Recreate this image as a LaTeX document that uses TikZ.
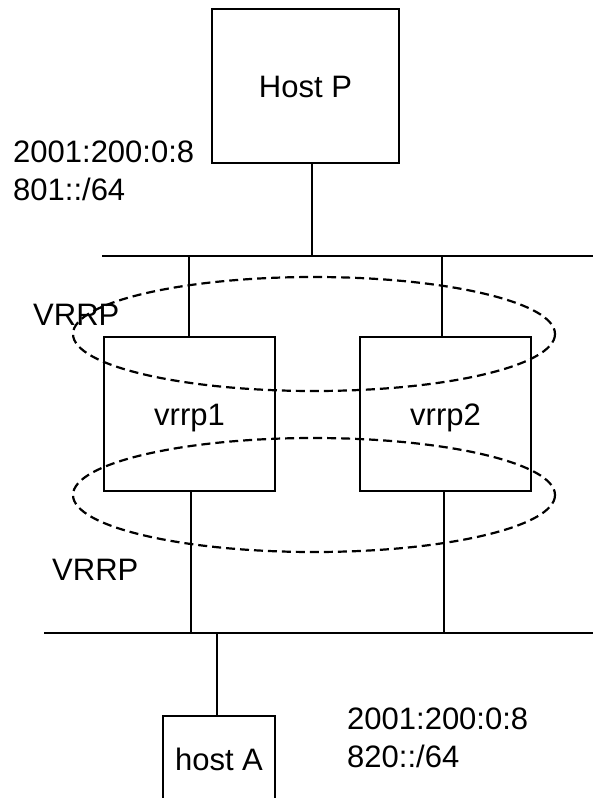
\documentclass[tikz,border=0pt]{standalone}
\usepackage{fontspec}
\setmainfont{Liberation Sans}
\begin{document}
\begin{tikzpicture}[x=1pt,y=-1pt,
  every node/.style={font=\fontsize{31}{38}\selectfont},
  box/.style={draw,line width=1.3pt,inner sep=0pt,text height=22pt,text depth=0pt},
  wire/.style={line width=1.3pt},
  vrrpring/.style={line width=2.2pt,dash pattern=on 9pt off 5pt},
  txt/.style={anchor=base west,inner sep=0pt,align=left}]
\useasboundingbox (0,0) rectangle (593,798);
\clip (0,0) rectangle (593,798);

% hosts and routers
\node[box,minimum width=187pt,minimum height=154pt] (hostp) at (305.5,86) {Host P};
\node[box,minimum width=171pt,minimum height=154pt] (r1) at (189.5,414) {vrrp1};
\node[box,minimum width=171pt,minimum height=154pt] (r2) at (445.5,414) {vrrp2};
\node[box,minimum width=112pt,minimum height=86pt] (hosta) at (219,759) {host A};

% upper segment
\coordinate (busPl) at (102,256);
\coordinate (busPr) at (593,256);
\draw[wire] (busPl) -- (busPr);
\draw[wire] (hostp.south -| 312,0) -- (312,256);
\draw[wire] (189,256) -- (r1.north -| 189,0);
\draw[wire] (442,256) -- (r2.north -| 442,0);

% lower segment
\coordinate (busAl) at (44,633);
\coordinate (busAr) at (593,633);
\draw[wire] (busAl) -- (busAr);
\draw[wire] (r1.south -| 191,0) -- (191,633);
\draw[wire] (r2.south -| 444,0) -- (444,633);
\draw[wire] (217,633) -- (hosta.north -| 217,0);

% VRRP groups
\draw[vrrpring] (314,334) ellipse [x radius=241, y radius=57];
\draw[vrrpring] (314,495) ellipse [x radius=241, y radius=57];

% labels (base anchor sits on the last line)
\node[txt] (pfxP) at (13,200) {2001:200:0:8\\801::/64};
\node[txt] (vrrpU) at (33,325) {VRRP};
\node[txt] (vrrpL) at (52,580) {VRRP};
\node[txt] (pfxA) at (347,767) {2001:200:0:8\\820::/64};
\end{tikzpicture}
\end{document}
